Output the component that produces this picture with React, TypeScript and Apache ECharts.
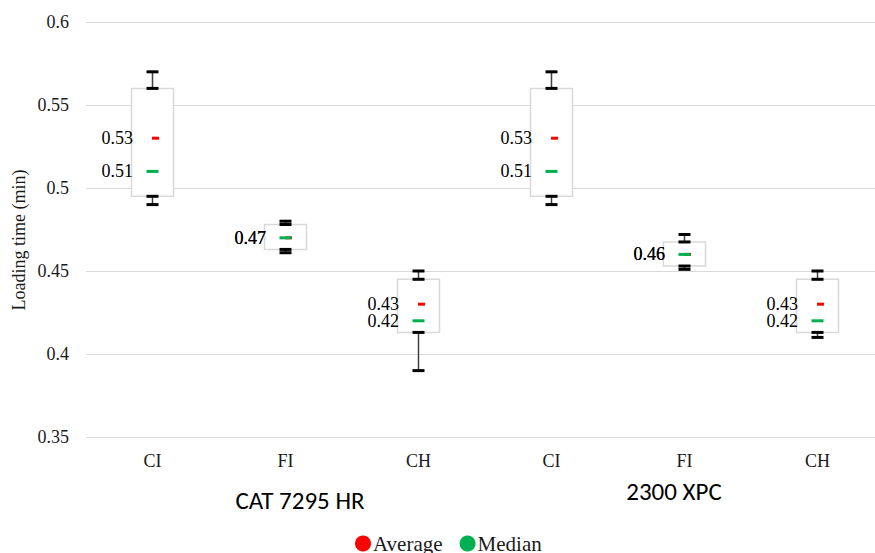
import React, { useEffect, useRef } from "react";
import * as echarts from "echarts";

const categories = ["CI", "FI", "CH", "CI", "FI", "CH"];
const groups = ["CAT 7295 HR", "2300 XPC"];
const minValues = [0.49, 0.461, 0.39, 0.49, 0.451, 0.41];
const q1Values = [0.495, 0.463, 0.413, 0.495, 0.453, 0.413];
const q3Values = [0.56, 0.478, 0.445, 0.56, 0.4675, 0.445];
const maxValues = [0.57, 0.48, 0.45, 0.57, 0.472, 0.45];
const averages = [0.53, 0.47, 0.43, 0.53, 0.46, 0.43];
const medians = [0.51, 0.47, 0.42, 0.51, 0.46, 0.42];
const yTicks = { min: 0.35, max: 0.6, interval: 0.05 };

const SERIF = "'Liberation Serif', 'Times New Roman', serif";
const NARROW = "Carlito, 'Liberation Sans Narrow', 'DejaVu Sans Condensed', sans-serif";

export default function App() {
  const ref = useRef<HTMLDivElement>(null);
  useEffect(() => {
    document.body.style.margin = "0";
    if (!ref.current) return;
    const chart = echarts.init(ref.current, null, { renderer: "svg" });
    const boxData = categories.map((_, i) => [i, minValues[i], q1Values[i], q3Values[i], maxValues[i]]);
    const option: any = {
      animation: false,
      backgroundColor: "#ffffff",
      grid: {
        left: 86,
        width: 798,
        top: 22,
        height: 415,
        containLabel: false,
        outerBoundsMode: "none",
      },
      xAxis: {
        type: "category",
        data: categories,
        axisLine: { show: false },
        axisTick: { show: false },
        splitLine: { show: false },
        axisLabel: { fontFamily: SERIF, fontSize: 18, color: "#1a1a1a", margin: 15 },
      },
      yAxis: {
        type: "value",
        min: yTicks.min,
        max: yTicks.max,
        interval: yTicks.interval,
        axisLine: { show: false },
        axisTick: { show: false },
        splitLine: { lineStyle: { color: "#d9d9d9", width: 1 } },
        axisLabel: { fontFamily: SERIF, fontSize: 18, color: "#1a1a1a", margin: 17 },
      },
      legend: {
        data: ["Average", "Median"],
        icon: "circle",
        itemWidth: 16,
        itemHeight: 16,
        itemGap: 17,
        top: 533,
        left: 355,
        padding: 0,
        itemStyle: { opacity: 1 },
        textStyle: { fontFamily: SERIF, fontSize: 21, color: "#1a1a1a", padding: [0, 0, 0, -3] },
      },
      graphic: [
        {
          type: "text",
          x: 19,
          y: 240,
          rotation: Math.PI / 2,
          style: {
            text: "Loading time (min)",
            font: `18px ${SERIF}`,
            fill: "#1a1a1a",
            align: "center",
            verticalAlign: "middle",
          },
        },
        {
          type: "text",
          x: 300,
          y: 500,
          style: { text: groups[0], font: `25px ${NARROW}`, fill: "#000", align: "center", verticalAlign: "middle" },
        },
        {
          type: "text",
          x: 674,
          y: 491,
          style: { text: groups[1], font: `25px ${NARROW}`, fill: "#000", align: "center", verticalAlign: "middle" },
        },
      ],
      series: [
        {
          type: "custom",
          name: "box",
          z: 2,
          data: boxData,
          encode: { x: 0, y: [1, 2, 3, 4] },
          renderItem: (params: any, api: any) => {
            const idx = api.value(0);
            const pMin = api.coord([idx, api.value(1)]);
            const pQ1 = api.coord([idx, api.value(2)]);
            const pQ3 = api.coord([idx, api.value(3)]);
            const pMax = api.coord([idx, api.value(4)]);
            const cx = pMin[0];
            const bw = 42;
            const cw = 12;
            const cap = (y: number) => ({
              type: "line",
              shape: { x1: cx - cw / 2, y1: y, x2: cx + cw / 2, y2: y },
              style: { stroke: "#000", lineWidth: 3 },
            });
            return {
              type: "group",
              children: [
                {
                  type: "line",
                  shape: { x1: cx, y1: pMax[1], x2: cx, y2: pQ3[1] },
                  style: { stroke: "#404040", lineWidth: 1.5 },
                },
                {
                  type: "line",
                  shape: { x1: cx, y1: pQ1[1], x2: cx, y2: pMin[1] },
                  style: { stroke: "#404040", lineWidth: 1.5 },
                },
                {
                  type: "rect",
                  shape: { x: cx - bw / 2, y: pQ3[1], width: bw, height: pQ1[1] - pQ3[1] },
                  style: { fill: "#ffffff", stroke: "#d9d9d9", lineWidth: 1.5 },
                },
                cap(pMax[1]),
                cap(pQ3[1]),
                cap(pQ1[1]),
                cap(pMin[1]),
              ],
            };
          },
        },
        {
          type: "scatter",
          name: "Average",
          z: 3,
          symbol: "rect",
          symbolSize: [7, 3],
          symbolOffset: [3, 0],
          itemStyle: { color: "#ff0000", opacity: 1 },
          data: averages.map((v, i) => [i, v]),
          label: {
            show: true,
            position: "left",
            distance: 19,
            fontFamily: SERIF,
            fontSize: 18,
            color: "#000",
            formatter: (p: any) => p.value[1].toFixed(2),
          },
        },
        {
          type: "scatter",
          name: "Median",
          z: 4,
          symbol: "rect",
          symbolSize: [12, 3],
          itemStyle: { color: "#00b050", opacity: 1 },
          data: medians.map((v, i) => [i, v]),
          label: {
            show: true,
            position: "left",
            distance: 13.5,
            fontFamily: SERIF,
            fontSize: 18,
            color: "#000",
            formatter: (p: any) => p.value[1].toFixed(2),
          },
        },
      ],
    };
    chart.setOption(option);
    return () => chart.dispose();
  }, []);
  return <div ref={ref} style={{ width: 875, height: 553 }} />;
}
